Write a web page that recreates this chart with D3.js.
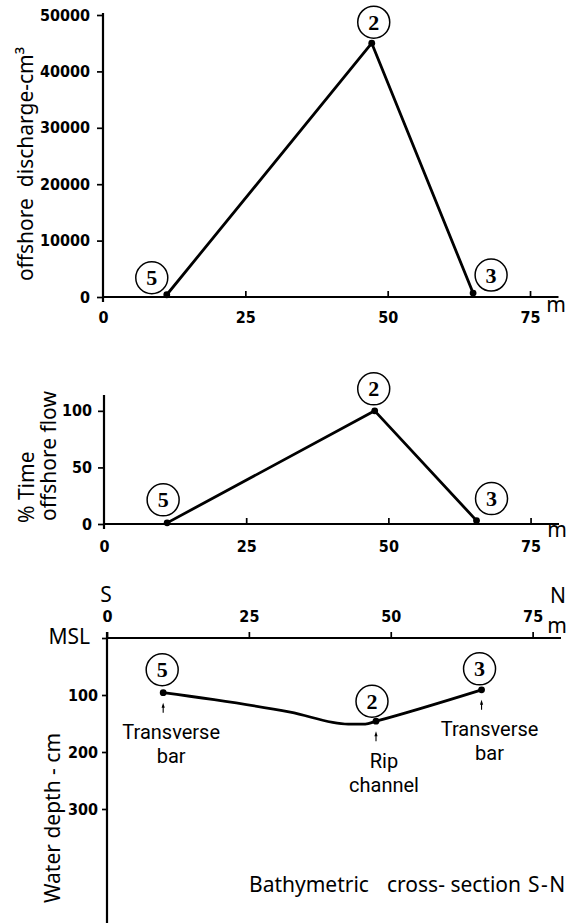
<!DOCTYPE html>
<html><head><meta charset="utf-8">
<script src="https://cdn.jsdelivr.net/npm/d3@7"></script>
<style>
body{margin:0;background:#fff}
svg{display:block;background:#fff}
.tick text{font-family:"DejaVu Sans Condensed","DejaVu Sans",sans-serif;font-weight:bold;font-size:16px;fill:#000}
.tick line{stroke:#000;stroke-width:1.7}
.ttl{font-family:"Noto Sans","DejaVu Sans",sans-serif;font-size:21px;fill:#000;white-space:pre}
.ann{font-family:Roboto,"Noto Sans",sans-serif;font-size:20px;fill:#000}
.num{font-family:"Liberation Serif","DejaVu Serif",serif;font-weight:bold;font-size:22px;fill:#000}
</style></head><body>
<svg id="c" width="574" height="923"></svg>
<script>
// ---------------- data ----------------
const stations = ["5", "2", "3"];
const distTicks = [0, 25, 50, 75];

// panel 1: offshore discharge (cm3)
const dischargeDist = [11.2, 47.2, 65.0];
const dischargeVals = [400, 45000, 700];
const dischargeTicks = [0, 10000, 20000, 30000, 40000, 50000];

// panel 2: % time offshore flow
const flowDist = [11.1, 47.6, 65.5];
const flowPct = [1, 100, 3];
const pctTicks = [0, 50, 100];

// panel 3: bathymetric cross-section (water depth, cm)
const stationDepthDist = [9.9, 47.4, 66.0];
const stationDepth = [96, 146, 91];
const profileDist = [9.9, 32.3, 42.5, 45.5, 47.4, 66.0];
const profileDepth = [96, 130, 151, 151, 146, 91];
const depthTicks = [0, 100, 200, 300];
const siteLabels = [["Transverse", "bar"], ["Rip", "channel"], ["Transverse", "bar"]];

// ---------------- layout (label offsets from the points) ----------------
const offTop = [[-15, -17], [2, -21], [18, -18]];
const offMid = [[-4, -23], [-1, -22], [15, -22]];
const offBot = [[-1, -23], [-4, -20], [-2, -21]];

const svg = d3.select("#c");
const AX = 2.2;

function circleLabels(g, xs, ys, offs) {
  xs.forEach((x, i) => {
    const cx = x + offs[i][0], cy = ys[i] + offs[i][1];
    g.append("circle").attr("cx", cx).attr("cy", cy).attr("r", 16)
      .attr("fill", "#fff").attr("stroke", "#000").attr("stroke-width", 1.5);
    g.append("text").attr("class", "num").attr("x", cx).attr("y", cy + 7.5)
      .attr("text-anchor", "middle").text(stations[i]);
  });
}
function dots(g, xs, ys) {
  xs.forEach((x, i) => g.append("circle").attr("cx", x).attr("cy", ys[i]).attr("r", 3.4).attr("fill", "#000"));
}
function vline(g, x, y1, y2) {
  g.append("line").attr("x1", x).attr("x2", x).attr("y1", y1).attr("y2", y2).attr("stroke", "#000").attr("stroke-width", AX);
}
function hline(g, y, x1, x2) {
  g.append("line").attr("x1", x1).attr("x2", x2).attr("y1", y).attr("y2", y).attr("stroke", "#000").attr("stroke-width", AX);
}

// ================= Panel 1 =================
{
  const x = d3.scaleLinear([0, 80], [103, 558.5]);
  const y = d3.scaleLinear([0, 50000], [297, 15]);
  const g = svg.append("g");
  g.append("g").attr("transform", `translate(${x(0)},0)`)
    .call(d3.axisLeft(y).tickValues(dischargeTicks).tickSize(6).tickPadding(7).tickFormat(d3.format("d")))
    .call(a => a.select(".domain").remove());
  g.append("g").attr("transform", `translate(0,${y(0)})`)
    .call(d3.axisBottom(x).tickValues(distTicks).tickSizeInner(-6).tickSizeOuter(0).tickPadding(0).tickFormat(d3.format("d")))
    .call(a => a.select(".domain").remove())
    .call(a => a.selectAll(".tick text").attr("y", 26).attr("dy", 0))
    .call(a => a.selectAll(".tick").filter(d => d === 0).select("line").remove());
  vline(g, x(0), y(50000) - 2, y(0) + 5);
  hline(g, y(0), x(0), x(80));
  g.append("text").attr("class", "ttl").attr("x", 556).attr("y", 312).attr("text-anchor", "middle").attr("font-size", 18).text("m");
  g.append("text").attr("class", "ttl").attr("font-size", 20.5)
    .attr("transform", `translate(32.5,${(y(0) + y(50000)) / 2 + 8}) rotate(-90)`)
    .attr("text-anchor", "middle").text("offshore  discharge-cm\u00B3");
  const xs = dischargeDist.map(x), ys = dischargeVals.map(y);
  g.append("path").datum(d3.range(xs.length))
    .attr("d", d3.line().x(i => xs[i]).y(i => ys[i]))
    .attr("fill", "none").attr("stroke", "#000").attr("stroke-width", 2.8).attr("stroke-linejoin", "round");
  dots(g, xs, ys);
  circleLabels(g, xs, ys, offTop);
}

// ================= Panel 2 =================
{
  const x = d3.scaleLinear([0, 80], [104, 559]);
  const y = d3.scaleLinear([0, 114], [524, 395]);
  const g = svg.append("g");
  g.append("g").attr("transform", `translate(${x(0)},0)`)
    .call(d3.axisLeft(y).tickValues(pctTicks).tickSize(6).tickPadding(6).tickFormat(d3.format("d")))
    .call(a => a.select(".domain").remove());
  g.append("g").attr("transform", `translate(0,${y(0)})`)
    .call(d3.axisBottom(x).tickValues(distTicks).tickSizeInner(-6).tickSizeOuter(0).tickPadding(0).tickFormat(d3.format("d")))
    .call(a => a.select(".domain").remove())
    .call(a => a.selectAll(".tick text").attr("y", 28).attr("dy", 0))
    .call(a => a.selectAll(".tick").filter(d => d === 0).select("line").remove());
  vline(g, x(0), y(114), y(0) + 5);
  hline(g, y(0), x(0), x(80));
  g.append("text").attr("class", "ttl").attr("x", 557).attr("y", 537).attr("text-anchor", "middle").attr("font-size", 18).text("m");
  g.append("text").attr("class", "ttl").attr("transform", `translate(34,523) rotate(-90)`).text("% Time");
  g.append("text").attr("class", "ttl").attr("transform", `translate(56,521) rotate(-90)`).text("offshore flow");
  const xs = flowDist.map(x), ys = flowPct.map(y);
  g.append("path").datum(d3.range(xs.length))
    .attr("d", d3.line().x(i => xs[i]).y(i => ys[i]))
    .attr("fill", "none").attr("stroke", "#000").attr("stroke-width", 2.8).attr("stroke-linejoin", "round");
  dots(g, xs, ys);
  circleLabels(g, xs, ys, offMid);
}

// ================= Panel 3 =================
{
  const x = d3.scaleLinear([0, 80], [107, 561]);
  const y = d3.scaleLinear([0, 500], [638, 923]);
  const g = svg.append("g");
  g.append("g").attr("transform", `translate(${x(0)},0)`)
    .call(d3.axisLeft(y).tickValues(depthTicks).tickSize(5).tickPadding(4).tickFormat(d => d === 0 ? "" : d3.format("d")(d)))
    .call(a => a.select(".domain").remove());
  g.append("g").attr("transform", `translate(0,${y(0)})`)
    .call(d3.axisTop(x).tickValues(distTicks).tickSizeInner(6).tickSizeOuter(0).tickPadding(10).tickFormat(d3.format("d")))
    .call(a => a.select(".domain").remove());
  vline(g, x(0), y(0) - 6, y(500));
  hline(g, y(0), x(0), x(80));
  g.append("text").attr("class", "ttl").attr("x", 106).attr("y", 602).attr("text-anchor", "middle").attr("font-size", 20).text("S");
  g.append("text").attr("class", "ttl").attr("x", 558).attr("y", 603).attr("text-anchor", "middle").attr("font-size", 20).text("N");
  g.append("text").attr("class", "ttl").attr("x", 557).attr("y", 633).attr("text-anchor", "middle").attr("font-size", 18).text("m");
  g.append("text").attr("class", "ttl").attr("x", 90).attr("y", 644).attr("text-anchor", "end").attr("font-size", 19).text("MSL");
  g.append("text").attr("class", "ttl")
    .attr("transform", `translate(60,818) rotate(-90)`).attr("text-anchor", "middle").text("Water depth - cm");
  const bt = g.append("text").attr("class", "ttl").attr("y", 892).attr("font-size", 21.5);
  bt.append("tspan").attr("x", 249).text("Bathymetric");
  bt.append("tspan").attr("x", 387).text("cross- section");
  bt.append("tspan").attr("x", 528).attr("letter-spacing", 1.5).text("S-N");

  g.append("path").datum(d3.range(profileDist.length))
    .attr("d", d3.line().x(i => x(profileDist[i])).y(i => y(profileDepth[i])).curve(d3.curveMonotoneX))
    .attr("fill", "none").attr("stroke", "#000").attr("stroke-width", 2.8).attr("stroke-linejoin", "round");
  const xs = stationDepthDist.map(x), ys = stationDepth.map(y);
  dots(g, xs, ys);
  circleLabels(g, xs, ys, offBot);
  xs.forEach((px, i) => {
    const py = ys[i];
    g.append("line").attr("x1", px).attr("x2", px).attr("y1", py + 13).attr("y2", py + 20)
      .attr("stroke", "#000").attr("stroke-width", 1.1);
    g.append("path").attr("d", `M${px - 1.6},${py + 15} L${px},${py + 10} L${px + 1.6},${py + 15} Z`).attr("fill", "#000");
    g.append("text").attr("class", "ann").attr("x", px + 8).attr("y", py + 46.5).attr("text-anchor", "middle").text(siteLabels[i][0]);
    g.append("text").attr("class", "ann").attr("x", px + 8).attr("y", py + 70.5).attr("text-anchor", "middle").text(siteLabels[i][1]);
  });
}
</script>
</body></html>
